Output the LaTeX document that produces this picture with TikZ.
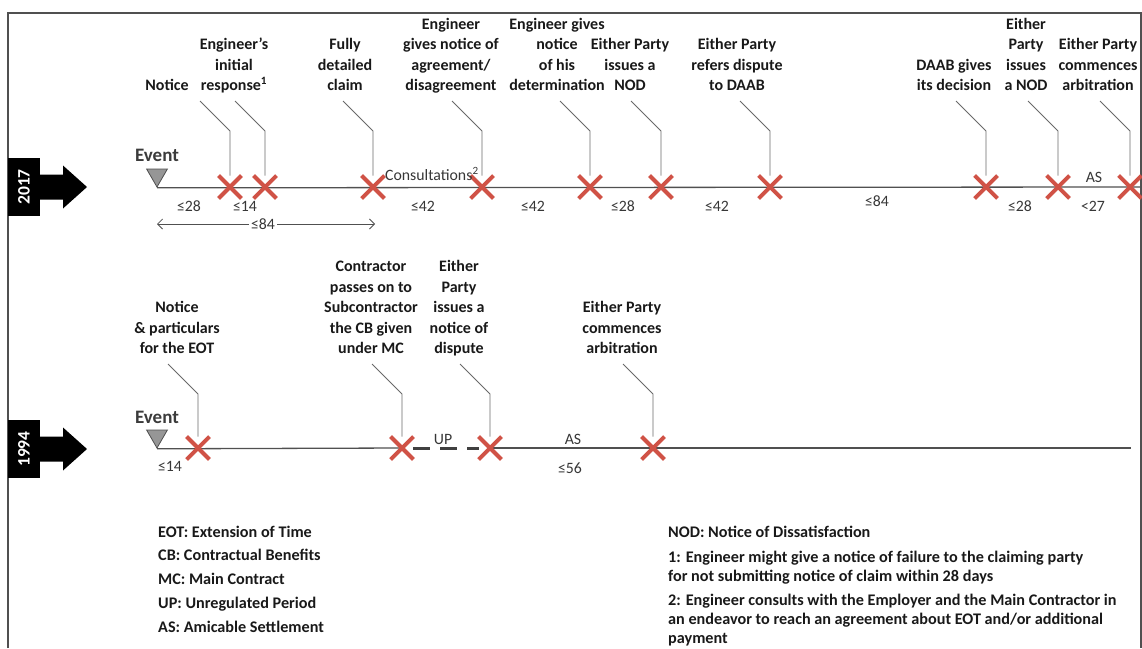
\documentclass[tikz,border=0pt]{standalone}
\usepackage{fontspec}
\setmainfont{Carlito}
\usetikzlibrary{shapes.misc,shapes.geometric,arrows.meta,backgrounds}

\definecolor{xred}{RGB}{208,82,70}
\definecolor{linegray}{RGB}{80,80,80}
\definecolor{leadgray}{RGB}{105,105,105}
\definecolor{numgray}{RGB}{55,55,55}
\definecolor{txt}{RGB}{25,25,25}
\definecolor{trigray}{RGB}{150,150,150}

\tikzset{
  xmark/.style={cross out, draw=xred, line width=3.9pt, minimum size=19pt, inner sep=0pt},
  tline/.style={draw=linegray, line width=1.3pt},
  leader/.style={draw=leadgray, line width=0.9pt},
  lbl/.style={font=\fontsize{16}{20.5}\selectfont\bfseries, text=txt, align=center,
              anchor=south, inner sep=0pt, execute at end node=\strut},
  num/.style={font=\fontsize{15.8}{18}\selectfont, text=numgray, inner sep=0pt},
  evtri/.style={regular polygon, regular polygon sides=3, shape border rotate=180,
                minimum size=24pt, inner sep=0pt, fill=trigray, draw=linegray, line width=0.8pt},
  evlbl/.style={font=\fontsize{19}{22}\selectfont\bfseries, text=txt!85!white, inner sep=0pt},
  yearbox/.style={fill=black, text=white, font=\fontsize{17.5}{20}\selectfont\bfseries,
                  rotate=90, minimum width=58pt, minimum height=32pt, inner sep=0pt},
  legend/.style={font=\fontsize{16.2}{19}\selectfont\bfseries, text=txt, align=left,
                 anchor=north west, inner sep=0pt, execute at begin node=\strut},
  span/.style={draw=linegray, line width=0.8pt,
               {Straight Barb[length=5pt,width=10pt]}-{Straight Barb[length=5pt,width=10pt]}},
  updash/.style={draw=linegray!80!black, line width=3pt, dash pattern=on 17pt off 10pt},
  frame/.style={draw=linegray, line width=1.3pt}
}

\begin{document}
\begin{tikzpicture}[x=1pt, y=-1pt]
\useasboundingbox (0,0) rectangle (1142,648);

% outer frame
\draw[frame] (8,648) -- (8,13) -- (1141,13) -- (1141,648);

% ---------------- 2017 timeline ----------------
\node[yearbox] (y17) at (24,187) {2017};
\fill[black] (y17.center) ++(15,-12.5) -- ++(24,0) -- ++(0,-9) -- ++(24,21.5)
  -- ++(-24,21.5) -- ++(0,-9) -- ++(-24,0) -- cycle;

\node[evtri] (ev17) at (157,175) {};
\node[evlbl] (evt17) at (157,155) {Event};
\coordinate (end17) at (1141,187);

\node[xmark] (a1) at (230,187) {};
\node[xmark] (a2) at (265,187) {};
\node[xmark] (a3) at (373,187) {};
\node[xmark] (a4) at (482,187) {};
\node[xmark] (a5) at (590,187) {};
\node[xmark] (a6) at (661,187) {};
\node[xmark] (a7) at (770,187) {};
\node[xmark] (a8) at (986,187) {};
\node[xmark] (a9) at (1058,187) {};
\node[xmark] (a10) at (1130,187) {};

\begin{scope}[on background layer]
  \draw[tline] (ev17.south) -- (end17);
\end{scope}

\foreach \m in {a1,a2,a3,a4,a5,a6,a7,a8,a9,a10}
  \draw[leader] (\m.north) -- ++(0,-44.5) -- ++(-30,-30);

\node[lbl] (la1) at (167,97) {Notice};
\node[lbl] (la2) at (234,97) {Engineer’s\\initial\\response\textsuperscript{1}};
\node[lbl] (la3) at (345,97) {Fully\\detailed\\claim};
\node[lbl] (la4) at (451,97) {Engineer\\gives notice of\\agreement/\\disagreement};
\node[lbl] (la5) at (557,97) {Engineer gives\\notice\\of his\\determination};
\node[lbl] (la6) at (630,97) {Either Party\\issues a\\NOD};
\node[lbl] (la7) at (737,97) {Either Party\\refers dispute\\to DAAB};
\node[lbl] (la8) at (954,97) {DAAB gives\\its decision};
\node[lbl] (la9) at (1026,97) {Either\\Party\\issues\\a NOD};
\node[lbl] (la10) at (1098,97) {Either Party\\commences\\arbitration};

% periods (days)
\node[num] (n1) at (189,206) {≤28};
\node[num] (n2) at (245,206) {≤14};
\node[num, anchor=base west] (n3) at (385,180) {Consultations\textsuperscript{2}};
\node[num] (n4) at (423,206) {≤42};
\node[num] (n5) at (533,206) {≤42};
\node[num] (n6) at (623,206) {≤28};
\node[num] (n7) at (717,206) {≤42};
\node[num] (n8) at (877,201) {≤84};
\node[num] (n9) at (1020,206) {≤28};
\node[num] (n10) at (1094,177) {AS};
\node[num] (n11) at (1093,206) {<27};

\coordinate (s1) at (157,224);
\coordinate (s2) at (375,224);
\draw[span] (s1) -- (s2);
\node[num, fill=white, inner xsep=2pt] (n12) at (263,224) {≤84};

% ---------------- 1994 timeline ----------------
\node[yearbox] (y94) at (24,449) {1994};
\fill[black] (y94.center) ++(15,-12.5) -- ++(24,0) -- ++(0,-9) -- ++(24,21.5)
  -- ++(-24,21.5) -- ++(0,-9) -- ++(-24,0) -- cycle;

\node[evtri] (ev94) at (157,436) {};
\node[evlbl] (evt94) at (157,417) {Event};
\coordinate (end94) at (1131,448);

\node[xmark] (b1) at (198,448) {};
\node[xmark] (b2) at (402,448) {};
\node[xmark] (b3) at (490,448) {};
\node[xmark] (b4) at (653,448) {};

\begin{scope}[on background layer]
  \draw[tline] (ev94.south) -- (b2.center);
  \draw[tline] (b3.center) -- (end94);
\end{scope}
\draw[updash] (b2) -- (b3);

\foreach \m in {b1,b2,b3,b4}
  \draw[leader] (\m.north) -- ++(0,-42.5) -- ++(-30,-30);

\node[lbl] (lb1) at (177,360) {Notice\\\& particulars\\for the EOT};
\node[lbl] (lb2) at (371,360) {Contractor\\passes on to\\Subcontractor\\the CB given\\under MC};
\node[lbl] (lb3) at (459,360) {Either\\Party\\issues a\\notice of\\dispute};
\node[lbl] (lb4) at (622,360) {Either Party\\commences\\arbitration};

\node[num] (m1) at (170,466) {≤14};
\node[num] (m2) at (443,439) {UP};
\node[num] (m3) at (573,439) {AS};
\node[num] (m4) at (570,468) {≤56};

% ---------------- legend ----------------
\node[legend] (g1) at (158,523.7) {EOT: Extension of Time};
\node[legend] (g2) at (158,546.7) {CB: Contractual Benefits};
\node[legend] (g3) at (158,571.2) {MC: Main Contract};
\node[legend] (g4) at (158,595.2) {UP: Unregulated Period};
\node[legend] (g5) at (158,618.7) {AS: Amicable Settlement};

\node[legend] (h1) at (668,523.7) {NOD: Notice of Dissatisfaction};
\node[legend] (h2) at (668,551.2) {1: Engineer might give a notice of failure to the claiming party\\for not submitting notice of claim within 28 days};
\node[legend] (h3) at (668,594.2) {2: Engineer consults with the Employer and the Main Contractor in\\an endeavor to reach an agreement about EOT and/or additional\\payment};
\end{tikzpicture}
\end{document}
